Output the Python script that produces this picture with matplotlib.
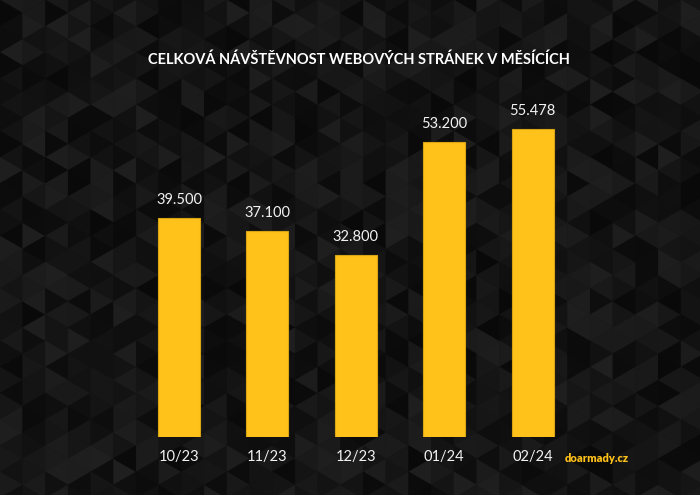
import numpy as np
import matplotlib
matplotlib.use("Agg")
import matplotlib.pyplot as plt
from matplotlib.patches import Polygon

# Monthly website visits
months = ["10/23", "11/23", "12/23", "01/24", "02/24"]
visits = [39500, 37100, 32800, 53200, 55478]
value_labels = ["39.500", "37.100", "32.800", "53.200", "55.478"]
title = "CELKOVÁ NÁVŠTĚVNOST WEBOVÝCH STRÁNEK V MĚSÍCÍCH"
brand = "doarmady.cz"

BAR = "#FFC21A"
W, H = 700, 495

fig = plt.figure(figsize=(7.0, 4.95), dpi=100)

# Dark triangle mosaic background (columns of triangles with vertical edges)
bg = fig.add_axes([0, 0, 1, 1])
bg.set_xlim(0, W)
bg.set_ylim(H, 0)
bg.axis("off")
bg.add_patch(plt.Rectangle((0, 0), W, H, color="#111111", zorder=0))

cw = 22.7                 # column width
L = 2 * cw / np.sqrt(3)   # vertical edge length
ncols = int(W / cw) + 2
nrows = int(H / L) + 3


def shade(i, j, k):
    v = np.sin(i * 12.9898 + j * 78.233 + k * 37.719) * 43758.5453
    return v - np.floor(v)


for c in range(-1, ncols):
    x0, x1 = c * cw, (c + 1) * cw
    oL = (c % 2) * L / 2
    oR = ((c + 1) % 2) * L / 2
    for k in range(-2, nrows):
        left_tri = [(x0, oL + k * L), (x0, oL + (k + 1) * L),
                    (x1, oL + k * L + L / 2)]
        right_tri = [(x1, oR + k * L), (x1, oR + (k + 1) * L),
                     (x0, oR + k * L + L / 2)]
        for m, tri in enumerate((left_tri, right_tri)):
            g = 0.035 + 0.085 * shade(c, k, m)
            bg.add_patch(Polygon(tri, closed=True, facecolor=(g, g, g),
                                 edgecolor=(g, g, g), linewidth=0.3,
                                 zorder=1))

# Bar chart
bottom_px, top_px = 437.0, 104.0
left_px, right_px = 134.8, 576.7
ax = fig.add_axes([left_px / W, (H - bottom_px) / H,
                   (right_px - left_px) / W, (bottom_px - top_px) / H])
ax.patch.set_alpha(0)
x = np.arange(len(months))
ax.bar(x, visits, width=0.475, color=BAR, edgecolor="#D9A514",
       linewidth=0.8, zorder=3)
ax.set_xlim(-0.5, len(months) - 0.5)
ax.set_ylim(0, 60000)
for s in ax.spines.values():
    s.set_visible(False)
ax.set_yticks([])
ax.set_xticks(x)
ax.set_xticklabels(months, color="#F2F2F2", fontsize=10.5, family="Lato")
ax.tick_params(axis="x", length=0, pad=9)

for xi, v, lab in zip(x, visits, value_labels):
    ax.annotate(lab, (xi, v), xytext=(0, 8), textcoords="offset points",
                ha="center", va="bottom", color="#F2F2F2", fontsize=10.5,
                family="Lato")

fig.text(359 / W, 1 - 60 / H, title, ha="center", va="center", color="white",
         fontsize=10.5, fontweight="bold", family="Lato")
fig.text(597 / W, 1 - 458 / H, brand, ha="center", va="center",
         color=BAR, fontsize=8, fontweight="heavy", family="Lato")

fig.savefig("out.png", dpi=100, facecolor="#111111")
